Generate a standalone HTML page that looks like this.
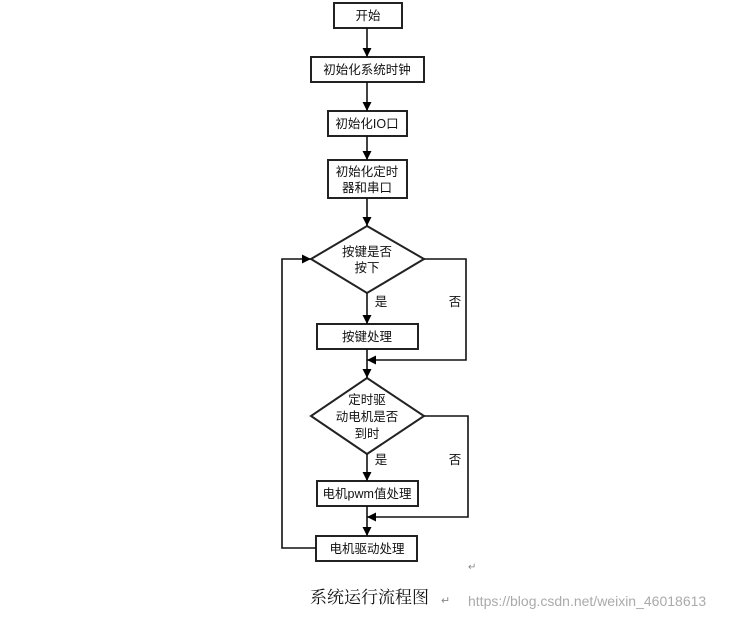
<!DOCTYPE html>
<html><head><meta charset="utf-8"><style>
body{margin:0;background:#fff;width:746px;height:619px;overflow:hidden}
svg text{font-family:"Liberation Sans","Noto Sans CJK SC",sans-serif;font-size:12.5px;fill:#111}
</style></head><body>
<svg width="746" height="619" viewBox="0 0 746 619" xmlns="http://www.w3.org/2000/svg">
<defs><marker id="a" viewBox="0 0 10 10" refX="10" refY="5" markerWidth="9" markerHeight="9" markerUnits="userSpaceOnUse" orient="auto"><path d="M0,0L10,5L0,10z" fill="#000"/></marker></defs>
<g fill="#fff" stroke="#222" stroke-width="2">
<rect x="334" y="3" width="68" height="25"/>
<rect x="311" y="57" width="113" height="25"/>
<rect x="328" y="111" width="79" height="25"/>
<rect x="328" y="160" width="79" height="38"/>
<polygon points="367,226 424,259 367,293 311,259"/>
<rect x="317" y="324" width="101" height="25"/>
<polygon points="367,378 424,416 367,454 311,416"/>
<rect x="317" y="481" width="101" height="25"/>
<rect x="316" y="536" width="101" height="25"/>
</g>
<g stroke="#111" stroke-width="1.6" fill="none" marker-end="url(#a)">
<line x1="367" y1="28" x2="367" y2="57"/>
<line x1="367" y1="82" x2="367" y2="111"/>
<line x1="367" y1="136" x2="367" y2="160"/>
<line x1="367" y1="198" x2="367" y2="226"/>
<line x1="367" y1="293" x2="367" y2="324"/>
<line x1="367" y1="349" x2="367" y2="378"/>
<polyline points="424,259 466,259 466,360 367,360"/>
<line x1="367" y1="454" x2="367" y2="481"/>
<line x1="367" y1="506" x2="367" y2="536"/>
<polyline points="424,416 468,416 468,517 367,517"/>
<polyline points="316,548 282,548 282,259 311,259"/>
</g>
<g text-anchor="middle">
<text x="368" y="20">开始</text>
<text x="367" y="74">初始化系统时钟</text>
<text x="367" y="128">初始化IO口</text>
<text x="367" y="176">初始化定时</text>
<text x="367" y="192">器和串口</text>
<text x="367" y="256">按键是否</text>
<text x="367" y="272">按下</text>
<text x="367" y="341">按键处理</text>
<text x="367" y="404">定时驱</text>
<text x="367" y="421">动电机是否</text>
<text x="367" y="438">到时</text>
<text x="367" y="498">电机pwm值处理</text>
<text x="367" y="553">电机驱动处理</text>
<text x="381" y="306">是</text>
<text x="455" y="306">否</text>
<text x="381" y="464">是</text>
<text x="455" y="464">否</text>
</g>
<text x="468" y="570" style="font-size:10px;fill:#888">↵</text>
<text x="310" y="603" style="font-family:'Liberation Serif','Noto Serif CJK SC',serif;font-size:17px">系统运行流程图</text>
<text x="441" y="604" style="font-size:11px;fill:#888">↵</text>
<text x="468" y="606" style="font-size:14px;fill:#aaa">https://blog.csdn.net/weixin_46018613</text>
</svg>
</body></html>
